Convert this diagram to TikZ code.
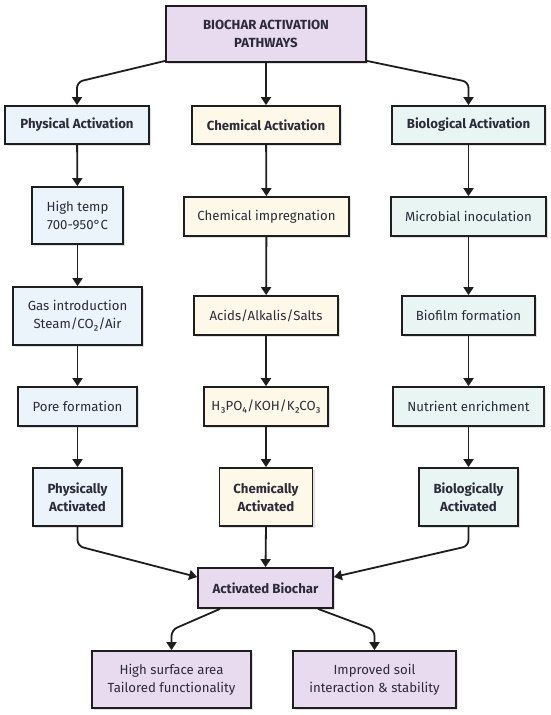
\documentclass[tikz,border=0pt]{standalone}
\usepackage{fontspec}
\setmainfont{Fira Sans}
\usetikzlibrary{arrows.meta,shadows}
\definecolor{cpurple}{HTML}{E8DBF0}
\definecolor{cblue}{HTML}{EAF4FA}
\definecolor{ccream}{HTML}{FDF8E7}
\definecolor{cmint}{HTML}{E8F5F2}
\definecolor{cline}{HTML}{1E1E1E}
\definecolor{ctext}{HTML}{2B2B3B}
\begin{document}
\begin{tikzpicture}[x=1pt,y=-1pt,
  box/.style={draw=cline,line width=1.8pt,rectangle,inner sep=0pt,align=center,
    text=ctext,font=\fontsize{13.2}{18}\selectfont,
    drop shadow={shadow xshift=2pt,shadow yshift=-2pt,opacity=0.12,fill=black}},
  bbox/.style={box,font=\fontsize{13.2}{18}\selectfont\bfseries},
  sz/.style 2 args={minimum width=#1pt,minimum height=#2pt},
  arr/.style={draw=cline,line width=1.8pt,-{Triangle[width=10pt,length=8pt]},rounded corners=6pt}]
\useasboundingbox[fill=white] (0,0) rectangle (550,715);

\node[bbox,fill=cpurple,sz={200}{56}] (top) at (266,34) {BIOCHAR ACTIVATION\\PATHWAYS};

\node[bbox,fill=cblue,sz={144}{38}] (phys) at (77,125) {Physical Activation};
\node[bbox,fill=ccream,sz={148}{38}] (chem) at (266,125) {Chemical Activation};
\node[bbox,fill=cmint,sz={153}{38}] (bio) at (468.5,125) {Biological Activation};

\node[box,fill=cblue,sz={91}{57}] (temp) at (77.5,215.5) {High temp\\700-950°C};
\node[box,fill=ccream,sz={165}{39}] (imp) at (266.5,216.5) {Chemical impregnation};
\node[box,fill=cmint,sz={155}{39}] (micro) at (468.5,216.5) {Microbial inoculation};

\node[box,fill=cblue,sz={129}{58}] (gas) at (77.5,316) {Gas introduction\\Steam/CO₂/Air};
\node[box,fill=ccream,sz={144}{39}] (acid) at (266,315.5) {Acids/Alkalis/Salts};
\node[box,fill=cmint,sz={133}{39}] (film) at (468.5,315.5) {Biofilm formation};

\node[box,fill=cblue,sz={119}{39}] (pore) at (77.5,406.5) {Pore formation};
\node[box,fill=ccream,sz={124}{39}] (hpo) at (266,406.5) {H₃PO₄/KOH/K₂CO₃};
\node[box,fill=cmint,sz={151}{39}] (nutr) at (468.5,406.5) {Nutrient enrichment};

\node[bbox,fill=cblue,sz={89}{58}] (pact) at (77.5,497) {Physically\\Activated};
\node[bbox,fill=ccream,sz={93}{58}] (cact) at (266,497) {Chemically\\Activated};
\node[bbox,fill=cmint,sz={99}{58}] (bact) at (468.5,497) {Biologically\\Activated};

\node[bbox,fill=cpurple,sz={135}{40}] (ab) at (265.5,588) {Activated Biochar};

\node[box,fill=cpurple,sz={159}{57}] (surf) at (171.5,679.5) {High surface area\\Tailored functionality};
\node[box,fill=cpurple,sz={163}{57}] (soil) at (374.5,679.5) {Improved soil\\interaction \& stability};

% top connectors
\coordinate (tl) at (77,82);
\coordinate (tr) at (468.5,82);
\draw[arr] ([yshift=2pt]top.south west) -- (tl) -- (phys.north);
\draw[arr] (top.south) -- (chem.north);
\draw[arr] ([yshift=2pt]top.south east) -- (tr) -- (bio.north);

% columns
\draw[arr] (phys) -- (temp);
\draw[arr] (temp) -- (gas);
\draw[arr] (gas) -- (pore);
\draw[arr] (pore) -- (pact);
\draw[arr] (chem) -- (imp);
\draw[arr] (imp) -- (acid);
\draw[arr] (acid) -- (hpo);
\draw[arr] (hpo) -- (cact);
\draw[arr] (bio) -- (micro);
\draw[arr] (micro) -- (film);
\draw[arr] (film) -- (nutr);
\draw[arr] (nutr) -- (bact);

% to activated biochar
\coordinate (bl) at (77.5,546);
\coordinate (br) at (468.5,546);
\draw[arr] (pact.south) -- (bl) -- ([yshift=11pt]ab.west);
\draw[arr] (cact.south) -- (ab.north);
\draw[arr] (bact.south) -- (br) -- ([yshift=11pt]ab.east);

% outputs
\coordinate (ol) at (171.5,630);
\coordinate (or) at (374.5,630);
\draw[arr] ([xshift=-45.5pt]ab.south) -- (ol) -- (surf.north);
\draw[arr] ([xshift=52.5pt]ab.south) -- (or) -- (soil.north);
\end{tikzpicture}
\end{document}
